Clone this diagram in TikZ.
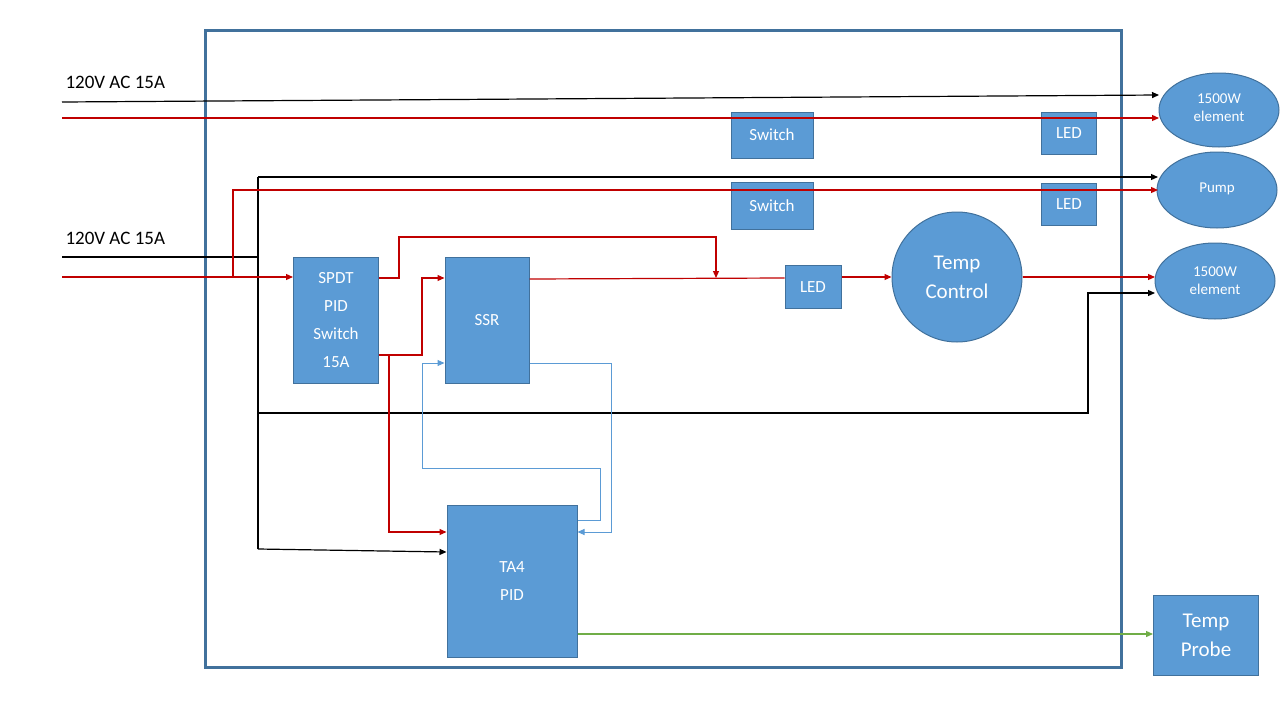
\documentclass[tikz,border=0pt]{standalone}
\usepackage{fontspec}
\setmainfont{Carlito}
\usetikzlibrary{arrows.meta}
\definecolor{bfill}{HTML}{5B9BD5}
\definecolor{bdraw}{HTML}{41719C}
\definecolor{rline}{HTML}{C00000}
\definecolor{gline}{HTML}{70AD47}
\begin{document}
\begin{tikzpicture}[x=1pt,y=-1pt,
  box/.style={draw=bdraw,fill=bfill,text=white,line width=1pt,inner sep=0pt,align=center,font=\fontsize{17}{28}\selectfont},
  ell/.style={draw=bdraw,fill=bfill,text=white,line width=1pt,ellipse,align=center,font=\fontsize{15}{18}\selectfont},
  wire/.style={line width=1.2pt,-{Triangle[length=7pt,width=6pt]}},
  bw/.style={line width=1.2pt},
  red/.style={draw=rline},
  blu/.style={draw=bfill}]
\useasboundingbox (0,0) rectangle (1280,720);
\draw[draw=bdraw,line width=3pt] (205,30) rectangle (1121,667);
\node[font=\fontsize{19}{22}\selectfont,anchor=west] (l1) at (62,82) {120V AC 15A};
\node[font=\fontsize{19}{22}\selectfont,anchor=west] (l2) at (62,238) {120V AC 15A};
% nodes
\node[box,minimum width=82pt,minimum height=46pt] (sw1) at (772,135) {Switch};
\node[box,minimum width=55pt,minimum height=42pt] (led1) at (1069,133) {LED};
\node[box,minimum width=82pt,minimum height=47pt] (sw2) at (772,206) {Switch};
\node[box,minimum width=55pt,minimum height=42pt] (led2) at (1069,204) {LED};
\node[box,minimum width=85pt,minimum height=126pt] (spdt) at (336,320) {SPDT\\PID\\Switch\\15A};
\node[box,minimum width=84pt,minimum height=126pt] (ssr) at (487,320) {SSR};
\node[box,minimum width=130pt,minimum height=152pt] (ta4) at (512,581) {TA4\\PID};
\node[box,minimum width=56pt,minimum height=43pt] (led3) at (813,287) {LED};
\node[box,circle,minimum size=130pt,font=\fontsize{21}{29}\selectfont] (tc) at (957,277) {Temp\\Control};
\node[box,minimum width=105pt,minimum height=80pt,font=\fontsize{21}{29}\selectfont] (tp) at (1206,635) {Temp\\Probe};
\draw[draw=bdraw,fill=bfill,line width=1pt] (1219,110) ellipse (60 and 37);
\node[text=white,align=center,font=\fontsize{15}{18}\selectfont] (e1) at (1219,108) {1500W\\element};
\draw[draw=bdraw,fill=bfill,line width=1pt] (1217,190) ellipse (60 and 38);
\node[text=white,font=\fontsize{15}{18}\selectfont] (pump) at (1217,189) {Pump};
\draw[draw=bdraw,fill=bfill,line width=1pt] (1215,281) ellipse (60 and 38);
\node[text=white,align=center,font=\fontsize{15}{18}\selectfont] (e2) at (1215,281) {1500W\\element};
\coordinate (e1w) at (1159,95); \coordinate (e1r) at (1159,118);
\coordinate (pw) at (1158,177); \coordinate (pr) at (1158,190);
\coordinate (e2r) at (1155,277); \coordinate (e2b) at (1155,293);
% wires top
\draw[wire] (62,102) -- (e1w);
\draw[wire,red] (62,118) -- (e1r);
% second input
\draw[bw] (62,257) -- (258,257);
\draw[bw] (258,177) -- (258,549);
\draw[wire] (258,177) -- (pw);
\draw[wire,red] (62,277) -- (spdt.west|-0,277);
\draw[wire,red] (233,277) -- (233,190) -- (pr);
\draw[wire] (258,413) -- (1088,413) -- (1088,293) -- (e2b);
\draw[wire] (258,549) -- (ta4.west|-0,552);
\draw[wire,red] (spdt.east|-0,278) -- (399,278) -- (399,237) -- (716,237) -- (716,278);
\draw[wire,red] (spdt.east|-0,355) -- (422,355) -- (422,278) -- (ssr.west|-0,278);
\draw[wire,red] (389,355) -- (389,532) -- (ta4.west|-0,532);
\draw[bw,red] (ssr.east|-0,279) -- (led3.west|-0,278);
\draw[wire,red] (led3.east|-0,277) -- (tc.west);
\draw[wire,red] (tc.east) -- (e2r);
\draw[wire,blu,line width=1pt] (ta4.east|-0,520) -- (600,520) -- (600,468) -- (422,468) -- (422,363) -- (ssr.west|-0,363);
\draw[wire,blu,line width=1pt] (ssr.east|-0,363) -- (611,363) -- (611,532) -- (ta4.east|-0,532);
\draw[wire,draw=gline] (ta4.east|-0,634) -- (tp.west|-0,634);
\end{tikzpicture}
\end{document}
